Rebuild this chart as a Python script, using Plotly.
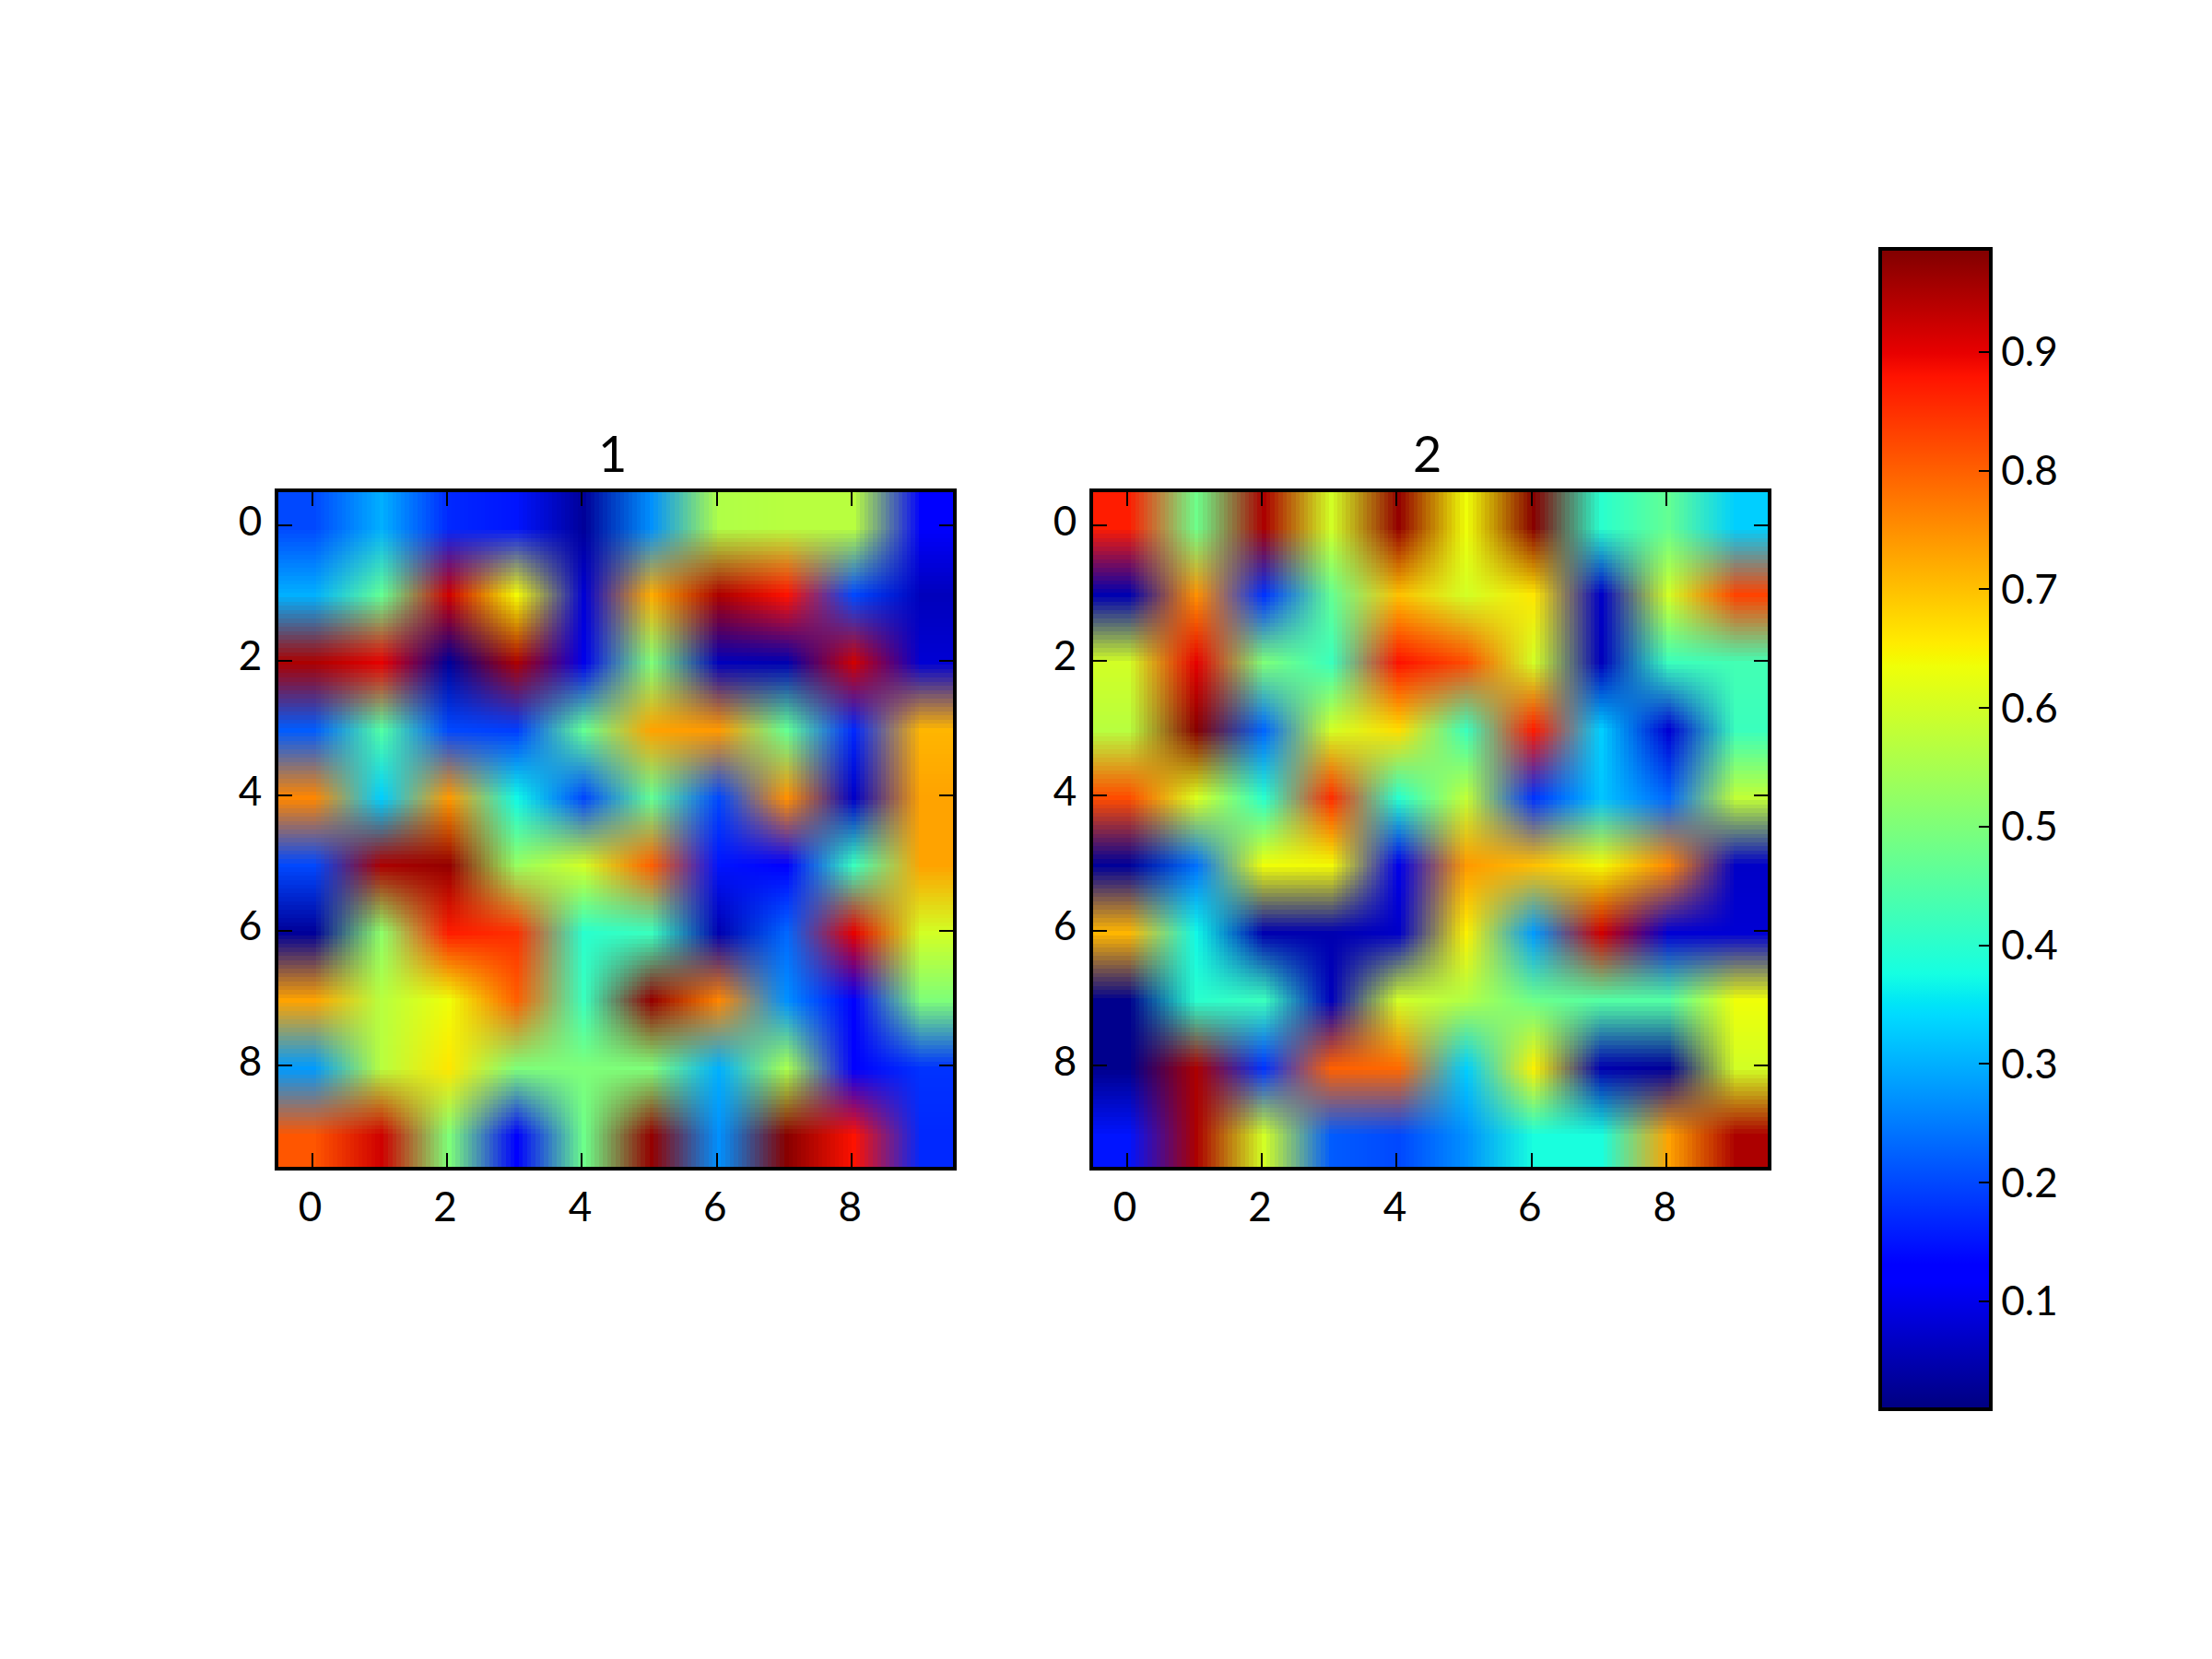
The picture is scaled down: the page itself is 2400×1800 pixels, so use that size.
# Two smoothed 10x10 heatmaps sharing one jet colorbar

import numpy as np
import plotly.graph_objects as go

# Values, row by row (row 0 on top)
values_1 = [
    [0.20, 0.30, 0.17, 0.15, 0.03, 0.27, 0.56, 0.57, 0.57, 0.12],
    [0.30, 0.47, 0.92, 0.64, 0.08, 0.72, 0.95, 0.88, 0.20, 0.06],
    [0.95, 0.90, 0.03, 0.95, 0.10, 0.50, 0.06, 0.05, 0.92, 0.08],
    [0.22, 0.45, 0.20, 0.19, 0.47, 0.73, 0.74, 0.47, 0.17, 0.71],
    [0.76, 0.33, 0.74, 0.37, 0.20, 0.47, 0.20, 0.75, 0.07, 0.73],
    [0.20, 0.95, 0.97, 0.53, 0.60, 0.80, 0.15, 0.13, 0.42, 0.73],
    [0.03, 0.52, 0.87, 0.85, 0.40, 0.42, 0.05, 0.23, 0.90, 0.60],
    [0.73, 0.57, 0.635, 0.80, 0.42, 0.97, 0.76, 0.27, 0.12, 0.50],
    [0.28, 0.57, 0.66, 0.50, 0.50, 0.50, 0.30, 0.55, 0.12, 0.18],
    [0.81, 0.92, 0.50, 0.12, 0.48, 0.97, 0.27, 0.98, 0.88, 0.17],
]
values_2 = [
    [0.87, 0.48, 0.95, 0.60, 0.97, 0.635, 0.98, 0.40, 0.47, 0.33],
    [0.05, 0.75, 0.18, 0.47, 0.70, 0.60, 0.66, 0.07, 0.60, 0.83],
    [0.60, 0.90, 0.50, 0.42, 0.88, 0.82, 0.60, 0.06, 0.42, 0.43],
    [0.57, 0.98, 0.23, 0.60, 0.67, 0.42, 0.87, 0.33, 0.08, 0.42],
    [0.82, 0.61, 0.40, 0.85, 0.40, 0.58, 0.18, 0.32, 0.23, 0.58],
    [0.03, 0.24, 0.635, 0.64, 0.10, 0.74, 0.70, 0.64, 0.76, 0.07],
    [0.71, 0.37, 0.05, 0.05, 0.07, 0.65, 0.28, 0.92, 0.08, 0.08],
    [0.02, 0.40, 0.42, 0.06, 0.60, 0.56, 0.48, 0.45, 0.45, 0.635],
    [0.02, 0.95, 0.18, 0.80, 0.79, 0.33, 0.65, 0.05, 0.03, 0.60],
    [0.15, 0.95, 0.60, 0.22, 0.20, 0.27, 0.38, 0.38, 0.73, 0.95],
]
titles = ["1", "2"]
colorbar_ticks = [0.1, 0.2, 0.3, 0.4, 0.5, 0.6, 0.7, 0.8, 0.9]
value_min = 0.009
value_max = 0.987

W, H = 2400, 1800
OFFSET = 8  # the page puts the plot this far from its corner
FONT = "Lato"

# matplotlib jet
red = ([0, 0.35, 0.66, 0.89, 1], [0, 0, 1, 1, 0.5])
green = ([0, 0.125, 0.375, 0.64, 0.91, 1], [0, 0, 1, 1, 0, 0])
blue = ([0, 0.11, 0.34, 0.65, 1], [0.5, 1, 1, 0, 0])
stops = sorted(set(red[0] + green[0] + blue[0]))
jet = [
    [
        s,
        "rgb({:.0f},{:.0f},{:.0f})".format(
            255 * np.interp(s, *red), 255 * np.interp(s, *green), 255 * np.interp(s, *blue)
        ),
    ]
    for s in stops
]


def px_x(p):
    return (p - OFFSET) / W


def px_y(p):
    return 1 - (p - OFFSET) / H


fig = go.Figure()
# "fast" lets the browser scale a 10x10 image, so colours blend in RGB as in the reference
fig.add_trace(go.Heatmap(z=values_1, coloraxis="coloraxis", zsmooth="fast", xaxis="x", yaxis="y"))
fig.add_trace(go.Heatmap(z=values_2, coloraxis="coloraxis", zsmooth="fast", xaxis="x2", yaxis="y2"))

x_axis = dict(
    range=[-0.5, 9.5],
    tick0=0,
    dtick=2,
    ticks="inside",
    ticklen=15,
    tickwidth=2,
    tickcolor="black",
    showline=True,
    linecolor="black",
    linewidth=4,
    mirror="allticks",
    showgrid=False,
    zeroline=False,
    ticklabelstandoff=2,
    ticklabelshift=-2,
    tickfont=dict(family=FONT, size=44, color="black"),
)
y_axis = dict(x_axis, range=[9.5, -0.5], ticklabelstandoff=5, ticklabelshift=5)
# the axis lines sit just outside the domain
y_domain = [px_y(1266), px_y(533.5)]

fig.update_layout(
    width=W,
    height=H,
    margin=dict(l=0, r=0, t=0, b=0),
    paper_bgcolor="white",
    plot_bgcolor="white",
    showlegend=False,
    xaxis=dict(x_axis, domain=[px_x(302), px_x(1034)], anchor="y"),
    yaxis=dict(y_axis, domain=y_domain, anchor="x"),
    xaxis2=dict(x_axis, domain=[px_x(1186), px_x(1918)], anchor="y2"),
    yaxis2=dict(y_axis, domain=y_domain, anchor="x2"),
    coloraxis=dict(
        cmin=value_min,
        cmax=value_max,
        colorscale=jet,
        colorbar=dict(
            x=px_x(2040),
            xanchor="left",
            xpad=0,
            y=px_y(1529),
            yanchor="bottom",
            ypad=0,
            len=(1529 - 270) / H,
            lenmode="fraction",
            thickness=120,
            thicknessmode="pixels",
            outlinecolor="black",
            outlinewidth=4,
            ticks="inside",
            ticklen=15,
            tickwidth=2,
            tickcolor="black",
            tickvals=colorbar_ticks,
            ticktext=[str(t) for t in colorbar_ticks],
            tickfont=dict(family=FONT, size=44, color="black"),
        ),
    ),
    annotations=[
        dict(
            text=t,
            x=0.5,
            xref=ref + " domain",
            y=1,
            yref=ref.replace("x", "y") + " domain",
            yanchor="bottom",
            xshift=-4,
            yshift=8,
            showarrow=False,
            font=dict(family=FONT, size=54, color="black"),
        )
        for t, ref in zip(titles, ["x", "x2"])
    ],
)

fig.write_html("out.html")
